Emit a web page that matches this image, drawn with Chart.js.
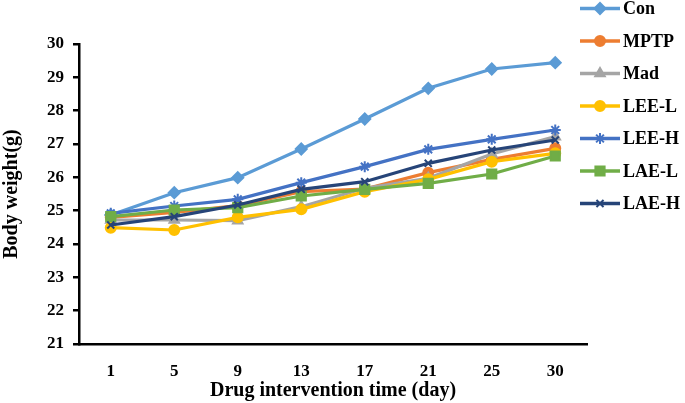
<!DOCTYPE html>
<html>
<head>
<meta charset="utf-8">
<script src="https://cdn.jsdelivr.net/npm/chart.js@4/dist/chart.umd.min.js"></script>
<style>
html,body{margin:0;padding:0;background:#fff}
#wrap{width:685px;height:403px;position:relative}
</style>
</head>
<body>
<div id="wrap"><canvas id="chart"></canvas></div>
<script>
// data (body weight, g)
const days=["1","5","9","13","17","21","25","30"];
const names=["Con","MPTP","Mad","LEE-L","LEE-H","LAE-L","LAE-H"];
const con =[24.87,25.54,25.99,26.85,27.75,28.67,29.25,29.44];
const mptp=[24.80,24.95,25.15,25.57,25.65,26.14,26.54,26.87];
const mad =[24.72,24.72,24.70,25.12,25.67,25.97,26.70,27.22];
const leeL=[24.49,24.42,24.80,25.04,25.57,25.94,26.47,26.72];
const leeH=[24.92,25.14,25.34,25.84,26.32,26.84,27.14,27.42];
const laeL=[24.82,25.02,25.09,25.44,25.64,25.82,26.10,26.64];
const laeH=[24.57,24.82,25.17,25.64,25.87,26.42,26.82,27.12];
const yTicks=[21,22,23,24,25,26,27,28,29,30];

const colors=["#5B9BD5","#ED7D31","#A5A5A5","#FFC000","#4472C4","#70AD47","#264478"];
const markers=["rectRot","circle","triangle","circle","star","rect","crossRot"];
const sizes=[5.5,5,5.5,5,5.5,6.5,5];
const series=[con,mptp,mad,leeL,leeH,laeL,laeH];
const FONT="'Liberation Serif','Times New Roman',serif";

// Excel-style legend: short line with the marker in its middle
const lineLegend={id:"lineLegend",afterDraw(chart){
  const ctx=chart.ctx, x0=chart.chartArea.right-7;
  ctx.save();
  chart.data.datasets.forEach((ds,i)=>{
    const y=8.5+i*32.5;
    ctx.strokeStyle=ds.borderColor; ctx.fillStyle=ds.borderColor; ctx.lineWidth=3.5;
    ctx.beginPath(); ctx.moveTo(x0,y); ctx.lineTo(x0+40,y); ctx.stroke();
    ctx.lineWidth=2;
    Chart.helpers.drawPoint(ctx,{pointStyle:ds.pointStyle,radius:ds.pointRadius,borderWidth:2,rotation:0},x0+20,y);
    ctx.fillStyle="#000"; ctx.font="bold 18px "+FONT; ctx.textBaseline="middle"; ctx.textAlign="left";
    ctx.fillText(ds.label,x0+43,y+1);
  });
  ctx.restore();
}};

new Chart(document.getElementById("chart"),{
  type:"line",
  data:{labels:days,datasets:series.map((d,i)=>({
    label:names[i],data:d,borderColor:colors[i],backgroundColor:colors[i],
    borderWidth:3.2,pointStyle:markers[i],pointRadius:sizes[i],pointBorderWidth:2,
    pointBackgroundColor:colors[i],pointBorderColor:colors[i],tension:0,order:series.length-i
  }))},
  options:{
    responsive:true,maintainAspectRatio:false,animation:false,
    layout:{padding:{top:44,right:98,left:0,bottom:0}},
    plugins:{legend:{display:false},tooltip:{enabled:false}},
    scales:{
      x:{
        offset:true,
        grid:{display:false,drawTicks:false,offset:true},
        border:{display:true,color:"#000",width:2.5},
        ticks:{color:"#000",padding:17,font:{family:FONT,size:17,weight:"bold"}},
        title:{display:true,text:"Drug intervention time (day)",color:"#000",padding:{top:0,bottom:0},font:{family:FONT,size:20,weight:"bold"}},
        afterFit(s){s.height=59;}
      },
      y:{
        min:21,max:30,
        afterBuildTicks(s){s.ticks=yTicks.map(v=>({value:v}));},
        grid:{drawOnChartArea:false,drawTicks:true,tickLength:6,color:"#000",lineWidth:2.5},
        border:{display:true,color:"#000",width:2.5},
        ticks:{color:"#000",padding:9,font:{family:FONT,size:17,weight:"bold"}},
        title:{display:true,text:"Body weight(g)",color:"#000",padding:{top:0,bottom:4},font:{family:FONT,size:20,weight:"bold"}},
        afterFit(s){s.width=79;}
      }
    }
  },
  plugins:[lineLegend]
});
</script>
</body>
</html>
